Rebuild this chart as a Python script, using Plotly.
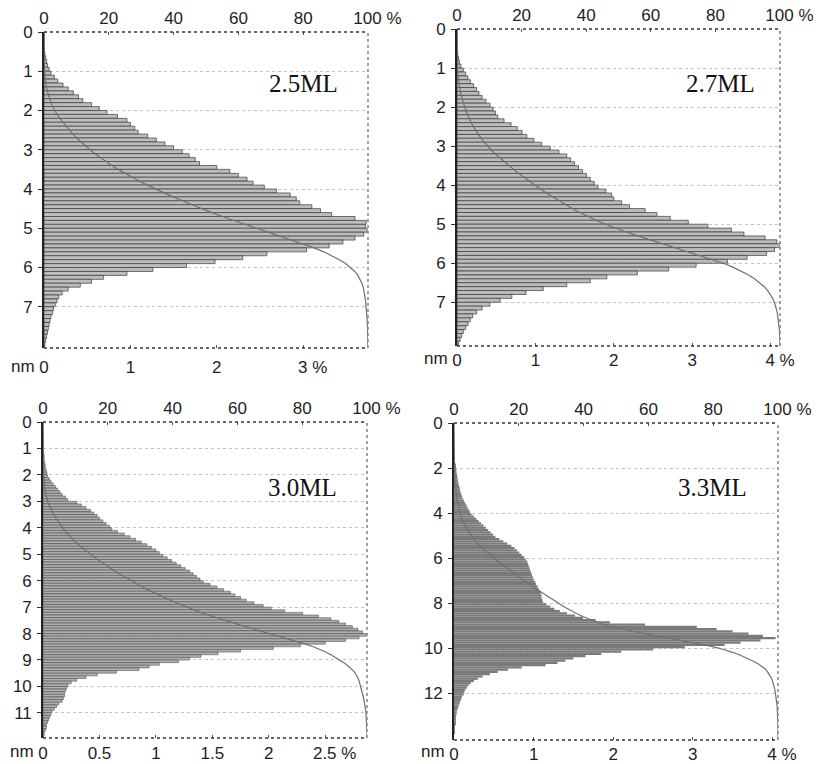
import plotly.graph_objects as go

W, H = 817, 764
BIN = 0.1  # nm, histogram bin width

labels = ["2.5ML", "2.7ML", "3.0ML", "3.3ML"]

# frequency (%) per 0.1 nm depth bin, starting at 0 nm
freq_25 = [0, 0, 0, 0, 0, 0.01, 0.02, 0.03, 0.04, 0.06,
           0.08, 0.12, 0.16, 0.22, 0.28, 0.34, 0.40, 0.45, 0.55, 0.64,
           0.73, 0.85, 0.96, 1.00, 1.05, 1.09, 1.20, 1.30, 1.40, 1.50,
           1.60, 1.68, 1.75, 1.80, 2.00, 2.15, 2.25, 2.35, 2.42, 2.55,
           2.69, 2.85, 2.92, 2.96, 3.10, 3.20, 3.33, 3.60, 3.73, 3.72,
           3.74, 3.70, 3.60, 3.46, 3.30, 3.04, 2.58, 2.30, 1.98, 1.65,
           1.26, 0.96, 0.69, 0.55, 0.42, 0.28, 0.21, 0.17, 0.15, 0.13,
           0.11, 0.10, 0.08, 0.07, 0.06, 0.05, 0.04, 0.03, 0.02, 0.01, 0]

freq_27 = [0, 0, 0, 0, 0, 0, 0.01, 0.02, 0.03, 0.05,
           0.08, 0.11, 0.14, 0.17, 0.21, 0.25, 0.28, 0.32, 0.37, 0.42,
           0.46, 0.49, 0.52, 0.60, 0.69, 0.77, 0.83, 0.89, 0.98, 1.08,
           1.19, 1.30, 1.40, 1.45, 1.50, 1.55, 1.60, 1.65, 1.70, 1.75,
           1.80, 1.90, 1.97, 2.00, 2.10, 2.20, 2.40, 2.55, 2.72, 2.95,
           3.20, 3.50, 3.66, 3.93, 4.08, 4.12, 4.05, 3.95, 3.70, 3.45,
           3.05, 2.70, 2.30, 1.91, 1.70, 1.40, 1.10, 0.88, 0.70, 0.55,
           0.42, 0.32, 0.25, 0.20, 0.17, 0.14, 0.11, 0.08, 0.06, 0.04, 0.02]

freq_30 = [0, 0, 0, 0, 0, 0, 0, 0, 0, 0,
           0, 0.005, 0.01, 0.01, 0.01, 0.015, 0.02, 0.02, 0.03, 0.035,
           0.04, 0.055, 0.07, 0.09, 0.11, 0.13, 0.15, 0.17, 0.20, 0.22,
           0.30, 0.34, 0.38, 0.42, 0.45, 0.48, 0.50, 0.53, 0.56, 0.59,
           0.61, 0.66, 0.72, 0.77, 0.82, 0.87, 0.92, 0.96, 1.00, 1.03,
           1.06, 1.10, 1.14, 1.18, 1.22, 1.26, 1.30, 1.33, 1.36, 1.39,
           1.42, 1.48, 1.54, 1.60, 1.66, 1.70, 1.75, 1.80, 1.87, 1.95,
           2.02, 2.14, 2.30, 2.44, 2.55, 2.62, 2.68, 2.74, 2.79, 2.83,
           2.87, 2.80, 2.68, 2.50, 2.28, 2.04, 1.75, 1.55, 1.40, 1.30,
           1.20, 1.03, 0.94, 0.85, 0.65, 0.48, 0.38, 0.30, 0.25, 0.22,
           0.21, 0.20, 0.19, 0.19, 0.18, 0.17, 0.14, 0.12, 0.10, 0.08,
           0.07, 0.06, 0.05, 0.04, 0.03, 0.03, 0.02, 0.01, 0.01, 0]

freq_33 = [0, 0, 0, 0, 0, 0, 0, 0, 0, 0,
           0, 0, 0, 0, 0, 0.005, 0.01, 0.01, 0.015, 0.02,
           0.03, 0.03, 0.035, 0.04, 0.045, 0.05, 0.055, 0.06, 0.07, 0.075,
           0.08, 0.09, 0.10, 0.11, 0.125, 0.14, 0.155, 0.17, 0.185, 0.20,
           0.22, 0.25, 0.28, 0.31, 0.34, 0.37, 0.40, 0.43, 0.46, 0.49,
           0.52, 0.57, 0.62, 0.67, 0.72, 0.76, 0.79, 0.82, 0.85, 0.88,
           0.90, 0.92, 0.93, 0.94, 0.95, 0.96, 0.97, 0.98, 0.99, 1.00,
           1.02, 1.03, 1.05, 1.06, 1.08, 1.09, 1.10, 1.10, 1.11, 1.12,
           1.16, 1.21, 1.26, 1.33, 1.42, 1.52, 1.62, 1.78, 1.96, 2.40,
           3.05, 3.30, 3.50, 3.70, 3.88, 4.04, 3.85, 3.60, 3.40, 2.90,
           2.50, 2.10, 1.85, 1.65, 1.50, 1.40, 1.30, 1.15, 0.85, 0.68,
           0.55, 0.45, 0.36, 0.30, 0.25, 0.21, 0.18, 0.16, 0.14, 0.13,
           0.12, 0.10, 0.09, 0.08, 0.07, 0.06, 0.05, 0.04, 0.035, 0.03,
           0.025, 0.02, 0.02, 0.015, 0.01, 0.01, 0.005, 0.005, 0, 0, 0]

series = [freq_25, freq_27, freq_30, freq_33]

# axis ticks
bottom_ticks = [[0, 1, 2, 3], [0, 1, 2, 3, 4], [0, 0.5, 1, 1.5, 2, 2.5], [0, 1, 2, 3, 4]]
bottom_text = [["0", "1", "2", "3"], ["0", "1", "2", "3", "4"],
               ["0", "0.5", "1", "1.5", "2", "2.5"], ["0", "1", "2", "3", "4"]]
top_ticks = [0, 20, 40, 60, 80, 100]
top_text = ["0", "20", "40", "60", "80", "100"]
depth_ticks = [list(range(0, 8)), list(range(0, 8)), list(range(0, 12)), list(range(0, 13, 2))]

# layout (pixel boxes) & styling
boxes = [(44, 368, 32, 348), (457, 780, 29, 346), (43, 367, 422, 738), (454, 778, 423, 740)]
xmax = [3.75, 4.12, 2.87, 4.07]
ymax = [8.05, 8.12, 11.95, 14.07]
bar_fill = ["#bdbdbd", "#bdbdbd", "#b0b0b0", "#7a7a7a"]
bar_line = ["#3a3a3a", "#3a3a3a", "#3a3a3a", "#6a6a6a"]
bar_lw = [0.7, 0.7, 0.5, 0.0]
label_pos = [(303, 83), (720, 83), (302, 487), (712, 487)]
bot_label_y = [368, 360, 753, 753]
bot_standoff = [7, 2, 3, 2]
top_standoff = [4, 4, 4, 4]

FONT = "Liberation Sans, Arial, sans-serif"
TXT = "#1e1e1e"
TICK_SIZE = 17
NB = "\u00a0"


def with_unit(text):
    # unit appended after the last tick value, value kept centred on its tick
    return NB * 4 + text + NB + "%"


def px(x):
    return x / W


def py(y):
    return 1 - y / H


def ax(letter, n):
    return letter if n == 1 else f"{letter}{n}"


fig = go.Figure()
layout = dict(width=W, height=H, margin=dict(l=0, r=0, t=0, b=0, autoexpand=False),
              paper_bgcolor="white", plot_bgcolor="white", showlegend=False,
              barmode="overlay", font=dict(family=FONT, size=TICK_SIZE, color=TXT))
shapes = []
annotations = []

for i, vals in enumerate(series):
    n = i + 1
    xb, xt, ya = ax("x", n), ax("x", n + 4), ax("y", n)
    x0, x1, y0, y1 = boxes[i]
    dom_x = [px(x0), px(x1)]
    dom_y = [py(y1), py(y0)]
    centers = [round(BIN * k + BIN / 2, 3) for k in range(len(vals))]
    edges = [round(BIN * (k + 1), 3) for k in range(len(vals))]
    total = sum(vals)
    cum, run = [], 0.0
    for v in vals:
        run += v
        cum.append(100 * run / total)

    fig.add_trace(go.Bar(x=vals, y=centers, orientation="h", width=BIN,
                         marker=dict(color=bar_fill[i],
                                     line=dict(color=bar_line[i], width=bar_lw[i])),
                         xaxis=xb, yaxis=ya, hoverinfo="skip"))
    fig.add_trace(go.Scatter(x=[0] + cum, y=[0] + edges, mode="lines",
                             line=dict(color="#707070", width=1.2),
                             xaxis=xt, yaxis=ya, hoverinfo="skip"))

    bt = list(bottom_text[i])
    bt[-1] = with_unit(bt[-1])
    tt = list(top_text)
    tt[-1] = with_unit(tt[-1])

    layout[ax("xaxis", n)] = dict(domain=dom_x, anchor=ya, range=[0, xmax[i]],
                                  tickvals=bottom_ticks[i], ticktext=bt,
                                  ticks="inside", ticklen=3, tickcolor="#555",
                                  ticklabelstandoff=bot_standoff[i], automargin=False,
                                  showgrid=False, zeroline=False, showline=False,
                                  tickfont=dict(size=TICK_SIZE, color=TXT))
    layout[ax("xaxis", n + 4)] = dict(domain=dom_x, anchor=ya, overlaying=xb, side="top",
                                      range=[0, 100], tickvals=top_ticks, ticktext=tt,
                                      ticks="inside", ticklen=3, tickcolor="#555",
                                      ticklabelstandoff=top_standoff[i], automargin=False,
                                      showgrid=False, zeroline=False, showline=False,
                                      tickfont=dict(size=TICK_SIZE, color=TXT))
    layout[ax("yaxis", n)] = dict(domain=dom_y, anchor=xb, range=[ymax[i], 0],
                                  tickvals=depth_ticks[i],
                                  ticktext=[str(t) for t in depth_ticks[i]],
                                  ticks="outside", ticklen=4, tickcolor="#333",
                                  ticklabelstandoff=2, automargin=False,
                                  showgrid=True, gridcolor="#c4c4c4", griddash="dot",
                                  gridwidth=1, zeroline=False,
                                  showline=True, linecolor="#222", linewidth=1.6,
                                  tickfont=dict(size=TICK_SIZE, color=TXT))

    # panel frame
    dx, dy = f"{xb} domain", f"{ya} domain"
    shapes.append(dict(type="line", xref=dx, yref=dy, x0=0, x1=1, y0=1, y1=1,
                       line=dict(color="#333", width=1.6, dash="dot"), layer="above"))
    shapes.append(dict(type="line", xref=dx, yref=dy, x0=0, x1=1, y0=0, y1=0,
                       line=dict(color="#333", width=1.6, dash="dot"), layer="above"))
    shapes.append(dict(type="line", xref=dx, yref=dy, x0=1, x1=1, y0=0, y1=1,
                       line=dict(color="#8a8a8a", width=1.6, dash="dot"), layer="above"))

    # sample label
    lx, ly = label_pos[i]
    annotations.append(dict(text=labels[i], xref="paper", yref="paper", x=px(lx), y=py(ly),
                            xanchor="center", yanchor="middle", showarrow=False,
                            font=dict(family="Liberation Serif, Times New Roman, serif",
                                      size=25, color="#111")))
    annotations.append(dict(text="nm", xref="paper", yref="paper", x=px(x0 - 7),
                            y=py(bot_label_y[i] - 2), xanchor="right", yanchor="middle",
                            showarrow=False, font=dict(size=17, color=TXT)))

layout["shapes"] = shapes
layout["annotations"] = annotations
fig.update_layout(**layout)
fig.write_html("out.html")
